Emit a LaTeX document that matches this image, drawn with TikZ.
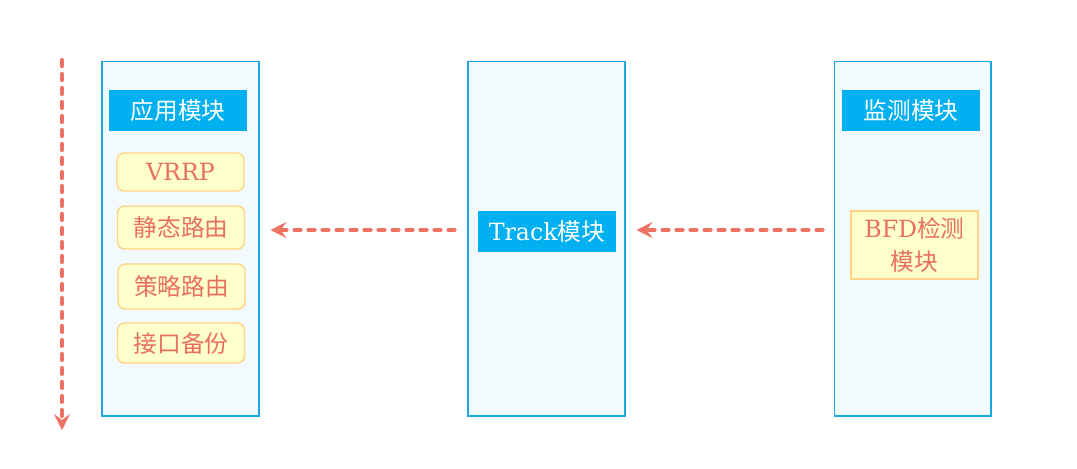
\documentclass[tikz,border=0pt]{standalone}
\usepackage{fontspec}
\setmainfont{DejaVu Serif}
\newfontfamily\cjk{Noto Sans CJK SC}
\usepackage{xcolor}
\usetikzlibrary{arrows.meta}
\definecolor{panelfill}{HTML}{F3FAFD}
\definecolor{paneldraw}{HTML}{1AA8E2}
\definecolor{headfill}{HTML}{00B0F0}
\definecolor{itemfill}{HTML}{FFFFCC}
\definecolor{itemdraw}{HTML}{FFD385}
\definecolor{itemtext}{HTML}{E8705F}
\definecolor{flowcol}{HTML}{EE7264}

\begin{document}
\begin{tikzpicture}[x=0.02cm,y=-0.02cm,
	panel/.style={draw=paneldraw,fill=panelfill,line width=0.6pt,minimum width=3.14cm,minimum height=7.1cm,inner sep=0pt},
	head/.style={fill=headfill,text=white,minimum width=2.76cm,minimum height=0.82cm,inner sep=0pt,font=\fontsize{13.5}{16}\selectfont},
	item/.style={draw=itemdraw,fill=itemfill,text=itemtext,line width=0.8pt,rounded corners=4pt,minimum width=2.54cm,inner sep=0pt,font=\fontsize{13.5}{19}\selectfont},
	flow/.style={draw=flowcol,line width=2.4pt,line cap=round,dash pattern=on 0.12cm off 0.16cm,-{Stealth[length=3.2mm,width=3.2mm,inset=1.2mm]}}]
	\useasboundingbox (0,0) rectangle (1077,468);

	% columns
	\node[panel] (appcol) at (180.5,238.5) {};
	\node[panel] (trackcol) at (546.5,238.5) {};
	\node[panel] (moncol) at (912.5,238.5) {};

	% headers
	\node[head] (app) at (178,110.5) {\cjk 应用模块};
	\node[head] (mon) at (911,110.5) {\cjk 监测模块};
	\node[head] (track) at (547,231.5) {Track{\cjk 模块}};

	% application items
	\node[item,minimum height=0.76cm] (vrrp) at (180.5,172) {VRRP};
	\node[item,minimum height=0.86cm] (static) at (181,227.5) {\cjk 静态路由};
	\node[item,minimum height=0.9cm] (policy) at (181.5,286.5) {\cjk 策略路由};
	\node[item,minimum height=0.8cm] (backup) at (181,343) {\cjk 接口备份};

	% bfd
	\node[item,rounded corners=0pt,minimum height=1.36cm,align=center] (bfd) at (914.5,245) {BFD{\cjk 检测}\\{\cjk 模块}};

	% flows
	\draw[flow,shorten <=0.26cm,shorten >=0.22cm] (trackcol.west |- 0,230) -- (appcol.east |- 0,230);
	\draw[flow,shorten <=0.22cm,shorten >=0.22cm] (moncol.west |- 0,230) -- (trackcol.east |- 0,230);

	% time axis
	\coordinate (ttop) at (62,60);
	\coordinate (tbot) at (62,430);
	\draw[flow] (ttop) -- (tbot);
\end{tikzpicture}
\end{document}
